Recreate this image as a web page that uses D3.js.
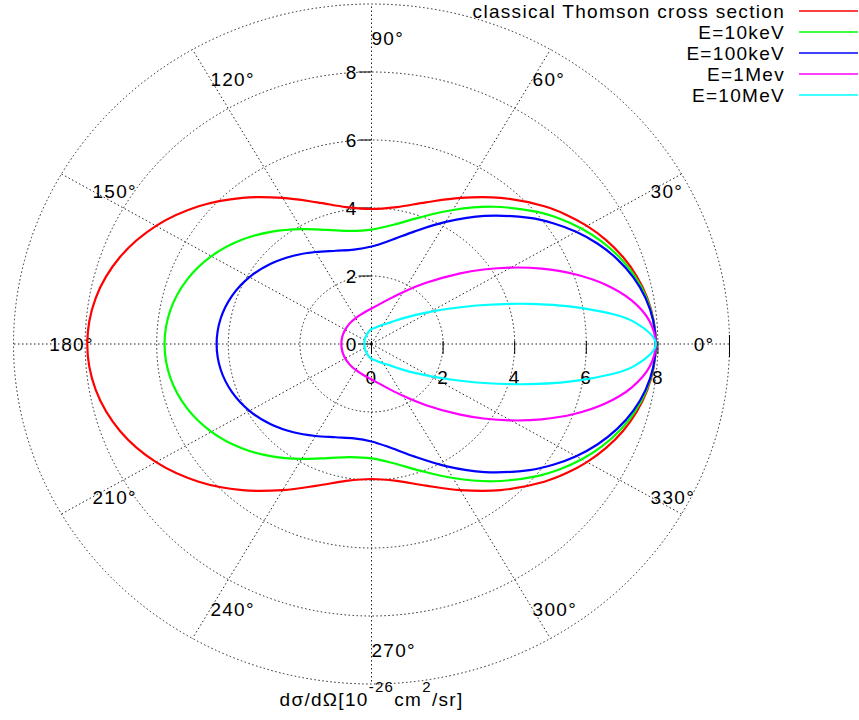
<!DOCTYPE html>
<html>
<head>
<meta charset="utf-8">
<script src="https://cdn.jsdelivr.net/npm/d3@7"></script>
<style>
  body { margin: 0; background: #fff; }
  svg { display: block; }
  text { font-family: "Liberation Sans", Arial, sans-serif; font-size: 19px; letter-spacing: 1.3px; fill: #000; }
</style>
</head>
<body>
<svg></svg>
<script>
// scattering angle in degrees (curves are symmetric about 0-180)
const angles = [0, 5, 10, 15, 20, 25, 30, 35, 40, 50, 60, 70, 80, 90, 100, 110, 120, 130, 140, 150, 160, 170, 180];

// dσ/dΩ in 10^-26 cm^2/sr, read at each angle
const thomson = [7.94, 7.91, 7.82, 7.674, 7.476, 7.231, 6.948, 6.634, 6.300, 5.610, 4.963, 4.434, 4.090, 3.970, 4.090, 4.434, 4.963, 5.610, 6.300, 6.948, 7.476, 7.820, 7.940];
const e10keV = [7.94, 7.904, 7.799, 7.627, 7.395, 7.111, 6.784, 6.424, 6.044, 5.270, 4.551, 3.964, 3.561, 3.366, 3.378, 3.571, 3.902, 4.315, 4.755, 5.163, 5.493, 5.707, 5.781];
const e100keV = [7.94, 7.898, 7.774, 7.573, 7.303, 6.974, 6.600, 6.193, 5.767, 4.917, 4.146, 3.526, 3.097, 2.866, 2.817, 2.918, 3.124, 3.390, 3.674, 3.936, 4.146, 4.281, 4.326];
const e1MeV = [7.94, 7.794, 7.378, 6.759, 6.020, 5.244, 4.497, 3.819, 3.234, 2.339, 1.759, 1.397, 1.176, 1.042, 0.961, 0.911, 0.882, 0.864, 0.853, 0.847, 0.844, 0.842, 0.841];
const e10MeV = [7.94, 7.372, 6.028, 4.559, 3.356, 2.490, 1.893, 1.482, 1.193, 0.830, 0.66, 0.55, 0.48, 0.44, 0.38, 0.33, 0.29, 0.26, 0.24, 0.22, 0.21, 0.20, 0.20];

const seriesNames = ["classical Thomson cross section", "E=10keV", "E=100keV", "E=1Mev", "E=10MeV"];
const seriesColors = ["#ff0000", "#00ff00", "#0000ff", "#ff00ff", "#00ffff"];
const seriesValues = [thomson, e10keV, e100keV, e1MeV, e10MeV];

const rings = [2, 4, 6, 8, 10];
const spokes = [0, 30, 60, 90, 120, 150, 180, 210, 240, 270, 300, 330];
const axisTicks = [0, 2, 4, 6, 8];

const width = 859, height = 720;
const cx = 371.5, cy = 344;

const svg = d3.select("svg")
    .attr("width", width)
    .attr("height", height);

const x = d3.scaleLinear().domain([-10, 10]).range([cx - 358, cx + 358]);
const y = d3.scaleLinear().domain([-10, 10]).range([cy + 340, cy - 340]);

const rad = a => a * Math.PI / 180;

// grid: rings and spokes
const grid = svg.append("g")
    .attr("fill", "none")
    .attr("stroke", "#222")
    .attr("stroke-width", 1)
    .attr("stroke-dasharray", "1.5,2.5");

grid.selectAll("ellipse")
    .data(rings)
    .enter().append("ellipse")
    .attr("cx", x(0))
    .attr("cy", y(0))
    .attr("rx", d => x(d) - x(0))
    .attr("ry", d => y(0) - y(d));

grid.selectAll("line")
    .data(spokes)
    .enter().append("line")
    .attr("x1", x(0))
    .attr("y1", y(0))
    .attr("x2", d => x(10 * Math.cos(rad(d))))
    .attr("y2", d => y(10 * Math.sin(rad(d))));

// angle labels, left-aligned at radius 9
svg.append("g")
    .selectAll("text")
    .data(spokes)
    .enter().append("text")
    .attr("x", d => x(9 * Math.cos(rad(d))))
    .attr("y", d => y(9 * Math.sin(rad(d))))
    .attr("dy", "0.35em")
    .text(d => d + "°");

// vertical axis ticks (left side)
const yAxis = svg.append("g");
yAxis.selectAll("line")
    .data(axisTicks)
    .enter().append("line")
    .attr("x1", x(0) - 13)
    .attr("x2", x(0))
    .attr("y1", d => y(d))
    .attr("y2", d => y(d))
    .attr("stroke", "#000");
yAxis.selectAll("text")
    .data(axisTicks)
    .enter().append("text")
    .attr("x", x(0) - 14)
    .attr("y", d => y(d))
    .attr("dy", "0.35em")
    .attr("text-anchor", "end")
    .text(d => d);

// horizontal axis ticks (below)
const xAxis = svg.append("g");
xAxis.selectAll("line")
    .data(axisTicks)
    .enter().append("line")
    .attr("x1", d => x(d))
    .attr("x2", d => x(d))
    .attr("y1", y(0) - 3)
    .attr("y2", y(0) + 10)
    .attr("stroke", "#000");
xAxis.append("line")
    .attr("x1", x(10))
    .attr("x2", x(10))
    .attr("y1", y(0) - 9)
    .attr("y2", y(0) + 13)
    .attr("stroke", "#000");
xAxis.selectAll("text")
    .data(axisTicks)
    .enter().append("text")
    .attr("x", d => x(d))
    .attr("y", y(0) + 33)
    .attr("dy", "0.35em")
    .attr("text-anchor", "middle")
    .text(d => d);

// curves: upper half from the table, lower half mirrored
const line = d3.line()
    .x(d => x(d.r * Math.cos(rad(d.a))))
    .y(d => y(d.r * Math.sin(rad(d.a))))
    .curve(d3.curveCatmullRomClosed.alpha(0.5));

function toPoints(values) {
    const upper = angles.map((a, i) => ({ a: a, r: values[i] }));
    const lower = angles.slice(1, -1).map((a, i) => ({ a: -a, r: values[i + 1] })).reverse();
    return upper.concat(lower);
}

svg.append("g")
    .selectAll("path")
    .data(seriesValues)
    .enter().append("path")
    .attr("d", d => line(toPoints(d)))
    .attr("fill", "none")
    .attr("stroke", (d, i) => seriesColors[i])
    .attr("stroke-width", 2.2);

// legend, top right
const legend = svg.append("g")
    .selectAll("g")
    .data(seriesNames)
    .enter().append("g")
    .attr("transform", (d, i) => `translate(0,${11 + i * 21})`);

legend.append("rect")
    .attr("x", -2)
    .attr("width", 0)
    .attr("height", 0);

legend.append("text")
    .attr("x", 785)
    .attr("dy", "0.35em")
    .attr("text-anchor", "end")
    .text(d => d);

legend.append("line")
    .attr("x1", 799)
    .attr("x2", 858)
    .attr("stroke", (d, i) => seriesColors[i])
    .attr("stroke-width", 1.5);

// bottom unit label
const unit = svg.append("text")
    .attr("x", x(0))
    .attr("y", 706)
    .attr("text-anchor", "middle");
unit.append("tspan").text("dσ/dΩ[10");
unit.append("tspan").attr("dy", -14).style("font-size", "15px").text("-26");
unit.append("tspan").attr("dy", 14).text("cm");
unit.append("tspan").attr("dy", -14).style("font-size", "15px").text("2");
unit.append("tspan").attr("dy", 14).text("/sr]");
</script>
</body>
</html>
